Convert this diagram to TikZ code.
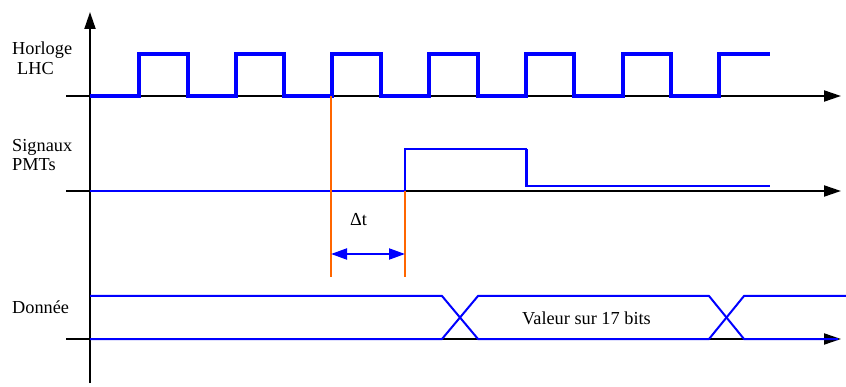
\documentclass[tikz,border=0pt]{standalone}
\usepackage{fontspec}
\setmainfont{Liberation Serif}
\usetikzlibrary{arrows.meta}
\definecolor{SigBlue}{RGB}{0,0,255}
\definecolor{DelayOrange}{RGB}{255,102,0}

\begin{document}
\begin{tikzpicture}[x=1pt, y=-1pt,
  every node/.style={font=\fontsize{18.3}{20}\selectfont, inner sep=0pt, anchor=base west},
  axis/.style={line width=2pt, -{Triangle[length=17pt,width=11pt]}},
  clk/.style={SigBlue, line width=4pt},
  sig/.style={SigBlue, line width=2pt},
  delayline/.style={DelayOrange, line width=2pt}]
  \useasboundingbox (0,0) rectangle (846,387);

  % axes
  \coordinate (origin) at (90,383);
  \draw[axis] (origin) -- (90,12);
  \foreach \name/\y in {clkaxis/96, pmtaxis/191, dataaxis/339} {
    \coordinate (\name) at (66,\y);
    \draw[axis] (\name) -- (841,\y);
  }

  % labels
  \node (horloge) at (12,55) {Horloge};
  \node (lhc) at (17,75) {LHC};
  \node (signaux) at (12,152) {Signaux};
  \node (pmts) at (12,171) {PMTs};
  \node (donnee) at (12,313) {Donnée};

  % clock
  \draw[clk] (90,96) foreach \k in {0,...,5} {
      -- ({139+96.7*\k},96) -- ({139+96.7*\k},54)
      -- ({187.5+96.7*\k},54) -- ({187.5+96.7*\k},96) }
    -- (719,96) -- (719,54) -- (770,54);

  % PMT signal
  \draw[sig] (90,191) -- (405,191) -- (405,149) -- (526,149)
    -- (526,186) -- (770,186);
  \draw[SigBlue, line width=3pt] (526,149) -- (526,187);

  % delay
  \coordinate (t0) at (331,96);
  \coordinate (t1) at (405,191);
  \draw[delayline] (t0) -- (331,277);
  \draw[delayline] (t1) -- (405,277);
  \coordinate (d0) at (331,254);
  \coordinate (d1) at (405,254);
  \draw[SigBlue, line width=2pt, {Triangle[length=16pt,width=11pt]}-{Triangle[length=16pt,width=11pt]}] (d0) -- (d1);
  \node (delta) at (350,226) {Δt};

  % data bus
  \draw[sig] (90,296) -- (442,296) -- (478,339) -- (709,339) -- (744,296) -- (846,296);
  \draw[sig] (90,339) -- (442,339) -- (478,296) -- (709,296) -- (744,339) -- (838,339);
  \node (valeur) at (522,325) {Valeur sur 17 bits};
\end{tikzpicture}
\end{document}
